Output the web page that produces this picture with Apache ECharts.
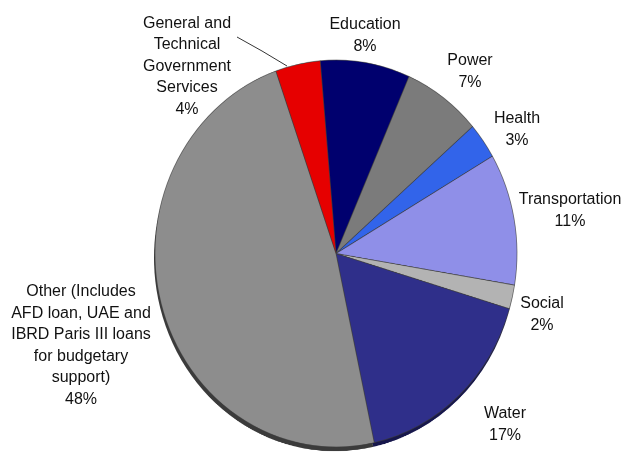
<!DOCTYPE html>
<html>
<head>
<meta charset="utf-8">
<script src="https://cdn.jsdelivr.net/npm/echarts@6/dist/echarts.min.js"></script>
<style>
  html, body { margin: 0; padding: 0; background: #fff; }
  #wrap { position: relative; width: 626px; height: 456px; overflow: hidden; }
  #pie, #labels { position: absolute; left: 0; top: 0; width: 626px; height: 456px; }
  /* the pie is drawn slightly taller than wide (tilted view) */
  #pie { transform: scaleY(1.069); transform-origin: 336px 253.5px; }
</style>
</head>
<body>
<div id="wrap">
  <div id="pie"></div>
  <div id="labels"></div>
</div>
<script>
// Sector shares of the financing (percent), clockwise from Education
const sectors = [
  'Education',
  'Power',
  'Health',
  'Transportation',
  'Social',
  'Water',
  'Other (Includes\nAFD loan, UAE and\nIBRD Paris III loans\nfor budgetary\nsupport)',
  'General and\nTechnical\nGovernment\nServices'
];
const shares = [8, 7, 3, 11, 2, 17, 48, 4];

// Slice face colours and the darker rim colours of the raised edge
const faceColors = ['#00006e', '#7b7b7b', '#3264ea', '#8f8fe8', '#b3b3b3', '#2f2f8a', '#8d8d8d', '#e60000'];
const rimColors  = ['#00003a', '#3e3e3e', '#1a3a90', '#55559a', '#5e5e5e', '#17174c', '#3b3b3b', '#7a0000'];
const clearColors = sectors.map(() => 'rgba(0,0,0,0)');

// Label block centres, measured from the pie centre
const labelOffsets = [
  [29, -218], [134, -182], [181, -124], [234, -43],
  [206, 61], [169, 171], [-255, 92], [-149, -187]
];

const CX = 336, CY = 253.5, R = 181, START = 95;

function sliceData(colors, withLine) {
  return sectors.map((name, i) => ({
    name,
    value: shares[i],
    itemStyle: { color: colors[i] },
    labelLine: { show: withLine && i === sectors.length - 1 }
  }));
}

// Pie faces and rim
const pieChart = echarts.init(document.getElementById('pie'), null, { renderer: 'canvas', devicePixelRatio: 2 });
pieChart.setOption({
  animation: false,
  series: [
    {
      type: 'pie',
      silent: true,
      z: 1,
      center: [CX - 1, CY + 4],
      radius: R,
      startAngle: START,
      clockwise: true,
      label: { show: false },
      labelLine: { show: false },
      data: sliceData(rimColors, false)
    },
    {
      type: 'pie',
      silent: true,
      z: 2,
      center: [CX, CY],
      radius: R,
      startAngle: START,
      clockwise: true,
      itemStyle: { borderColor: 'rgba(60,60,60,0.7)', borderWidth: 0.8 },
      label: { show: false },
      labelLine: { show: false },
      data: sliceData(faceColors, false)
    }
  ]
});

// Category labels
const labelChart = echarts.init(document.getElementById('labels'), null, { renderer: 'canvas' });
labelChart.setOption({
  animation: false,
  series: [
    {
      type: 'pie',
      silent: true,
      center: [CX, CY],
      radius: R,
      startAngle: START,
      clockwise: true,
      avoidLabelOverlap: false,
      itemStyle: { borderWidth: 0 },
      label: {
        show: true,
        position: 'outside',
        formatter: p => p.name + '\n' + p.value + '%',
        fontFamily: '"Liberation Sans", Arial, sans-serif',
        fontSize: 16,
        lineHeight: 21.5,
        color: '#111',
        align: 'center'
      },
      labelLine: {
        show: false,
        lineStyle: { color: '#000', width: 0.8 }
      },
      labelLayout: params => {
        const o = labelOffsets[params.dataIndex];
        const res = {
          x: CX + o[0],
          y: CY + o[1],
          align: 'center',
          verticalAlign: 'middle'
        };
        if (params.dataIndex === sectors.length - 1) {
          res.labelLinePoints = [[287, 66], [262, 51], [237, 37]];
        }
        return res;
      },
      data: sliceData(clearColors, true)
    }
  ]
});
</script>
</body>
</html>
